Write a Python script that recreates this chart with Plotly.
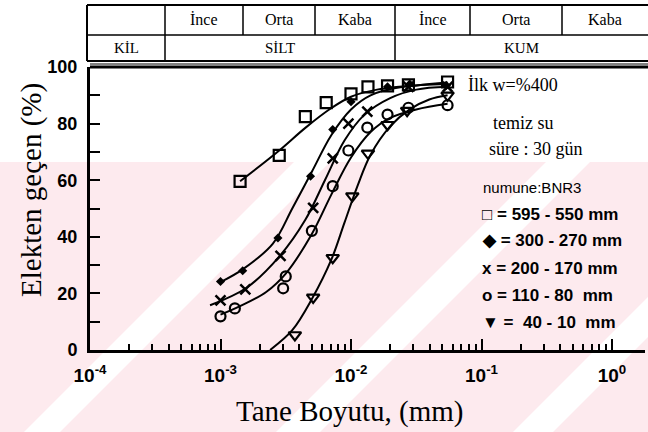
import plotly.graph_objects as go

# ---------------- data ----------------
# measured points: log10(grain size, mm) and percent passing
sq_x = [-2.85, -2.55, -2.35, -2.19, -2.0, -1.87, -1.72, -1.56, -1.26]
sq_y = [59.6, 68.8, 82.5, 87.4, 90.5, 93.0, 93.3, 93.7, 94.7]

dm_x = [-3.0, -2.83, -2.56, -2.31, -2.14, -2.0, -1.72, -1.55, -1.27]
dm_y = [24.2, 28.0, 39.6, 61.4, 77.9, 87.7, 93.0, 94.0, 93.5]

xx_x = [-3.0, -2.81, -2.54, -2.29, -2.14, -2.02, -1.875, -1.56, -1.26]
xx_y = [17.5, 21.4, 33.3, 50.2, 67.7, 80.0, 84.2, 93.0, 93.0]

ci_x = [-3.0, -2.89, -2.52, -2.50, -2.30, -2.14, -2.02, -1.875, -1.72, -1.56, -1.26]
ci_y = [11.9, 14.7, 21.8, 26.0, 42.1, 57.9, 70.5, 78.6, 83.2, 85.6, 86.5]

tr_x = [-2.43, -2.29, -2.14, -1.99, -1.87, -1.72, -1.57, -1.26]
tr_y = [5.3, 18.6, 32.6, 54.4, 69.5, 79.6, 84.6, 90.0]

# hand-drawn fitted curves
sq_cx = [-2.85, -2.55, -2.35, -2.15, -2.0, -1.8, -1.5, -1.26]
sq_cy = [59.6, 70.5, 78.5, 85.5, 89.5, 92.0, 93.5, 94.5]

dm_cx = [-3.0, -2.83, -2.6, -2.45, -2.3, -2.15, -2.0, -1.85, -1.6, -1.26]
dm_cy = [24.0, 28.5, 37.5, 50.0, 63.0, 76.0, 85.0, 90.0, 93.0, 94.0]

xx_cx = [-3.08, -2.8, -2.55, -2.35, -2.2, -2.05, -1.9, -1.7, -1.5, -1.26]
xx_cy = [15.8, 22.0, 33.0, 46.0, 60.0, 74.0, 83.0, 89.0, 92.0, 93.0]

ci_cx = [-3.0, -2.85, -2.65, -2.5, -2.3, -2.15, -2.0, -1.85, -1.7, -1.5, -1.26]
ci_cy = [12.5, 15.5, 20.5, 27.0, 41.0, 55.0, 68.0, 77.0, 82.0, 85.0, 87.0]

tr_cx = [-2.62, -2.45, -2.3, -2.15, -2.05, -1.95, -1.85, -1.7, -1.55, -1.4, -1.26]
tr_cy = [0.0, 7.0, 18.0, 32.0, 45.0, 58.0, 69.0, 79.0, 85.0, 88.5, 90.0]

x_tick_exp = [-4, -3, -2, -1, 0]
y_tick_vals = [0, 10, 20, 30, 40, 50, 60, 70, 80, 90, 100]

top_row = ["", "İnce", "Orta", "Kaba", "İnce", "Orta", "Kaba"]
bottom_row = ["KİL", "SİLT", "KUM"]
legend_rows = ["□ = 595 - 550 mm", "◆ = 300 - 270 mm", "x = 200 - 170 mm",
               "o = 110 - 80  mm", "▼ =  40 - 10  mm"]

# ---------------- layout helpers (pixel -> paper) ----------------
L, R, T, B = 90, 645, 67, 350
W, H = 648, 432
def px(x):
    return (x - L) / (R - L)
def py(y):
    return (B - y) / (B - T)

BOLD = "Liberation Sans, Arial, sans-serif"
SERIF = "Liberation Serif, Times New Roman, DejaVu Serif, serif"

fig = go.Figure()

def tenpow(v):
    return [10 ** a for a in v]

curves = [(sq_cx, sq_cy), (dm_cx, dm_cy), (xx_cx, xx_cy), (ci_cx, ci_cy), (tr_cx, tr_cy)]
for cx, cy in curves:
    fig.add_trace(go.Scatter(x=tenpow(cx), y=cy, mode="lines",
                             line=dict(color="black", width=2, shape="spline", smoothing=1.0),
                             hoverinfo="skip", showlegend=False))

pts = [
    (sq_x, sq_y, dict(symbol="square-open", size=11, line=dict(width=2.2, color="black"), color="black")),
    (dm_x, dm_y, dict(symbol="diamond", size=7, color="black")),
    (xx_x, xx_y, dict(symbol="x-thin", size=10, line=dict(width=2.5, color="black"), color="black")),
    (ci_x, ci_y, dict(symbol="circle-open", size=10, line=dict(width=2.2, color="black"), color="black")),
    (tr_x, tr_y, dict(symbol="triangle-down-open", size=11, line=dict(width=2.2, color="black"), color="black")),
]
for x, y, mk in pts:
    fig.add_trace(go.Scatter(x=tenpow(x), y=y, mode="markers", marker=mk, showlegend=False))

minor_vals = [m * 10 ** e for e in range(-4, 1) for m in range(2, 10)]

fig.update_layout(
    width=W, height=H,
    margin=dict(l=L, r=W - R, t=T, b=H - B, autoexpand=False),
    paper_bgcolor="white", plot_bgcolor="rgba(0,0,0,0)",
    xaxis=dict(
        type="log", range=[-4, (R - 612) / 130.5], automargin=False,
        showgrid=False, zeroline=False,
        showline=True, linecolor="black", linewidth=3,
        ticks="inside", ticklen=11, tickwidth=2, tickcolor="black",
        tickvals=tenpow(x_tick_exp),
        ticktext=["10<sup>%d</sup>" % e for e in x_tick_exp],
        tickfont=dict(family=BOLD, size=19, color="black", weight="bold"),
        ticklabelstandoff=6,
        minor=dict(tickvals=minor_vals, ticks="inside", ticklen=6, tickwidth=1.5, tickcolor="black"),
    ),
    yaxis=dict(
        range=[0, 100], showgrid=False, zeroline=False, automargin=False,
        showline=True, linecolor="black", linewidth=3,
        ticks="inside", ticklen=10, tickwidth=2, tickcolor="black",
        tickvals=y_tick_vals,
        ticktext=[str(v) if v % 20 == 0 else "" for v in y_tick_vals],
        tickfont=dict(family=BOLD, size=18, color="black", weight="bold"),
        ticklabelstandoff=6,
    ),
)

shapes = []
# faint pink watermark in the lower part of the page
PINK = "#fdeaee"
shapes.append(dict(type="rect", xref="paper", yref="paper", layer="below",
                   x0=px(0), x1=px(W), y0=py(H), y1=py(162), line=dict(width=0), fillcolor=PINK))
def band(s, w):
    # white diagonal band along x + y = s (pixels), half-width w
    pts_ = [(s - w - 162, 162), (s + w - 162, 162), (s + w - H, H), (s - w - H, H)]
    path = "M " + " L ".join("%f,%f" % (px(a), py(b)) for a, b in pts_) + " Z"
    shapes.append(dict(type="path", xref="paper", yref="paper", layer="below", path=path,
                       line=dict(width=0), fillcolor="white"))
for s, w in [(474, 18), (730, 22), (965, 20)]:
    band(s, w)

def line(x0, y0, x1, y1, w=2):
    shapes.append(dict(type="line", xref="paper", yref="paper", x0=px(x0), y0=py(y0),
                       x1=px(x1), y1=py(y1), line=dict(color="black", width=w)))

# plot top frame (double line)
line(L, T, 648, T, 3)
line(L, T - 3, 648, T - 3, 1)

# header table
tl, tr_, tt, tm, tb = 87, 648, 5, 35, 61
line(tl, tt, tr_, tt, 2)
line(tl, tm, tr_, tm, 1.5)
line(tl, tb, tr_, tb, 2)
line(tl, tt, tl, tb, 2)
top_cols = [87, 165, 243, 315, 395, 470, 562, 648]
for xv in top_cols[1:-1]:
    line(xv, tt, xv, tm, 1.5)
for xv in [165, 395]:
    line(xv, tm, xv, tb, 1.5)
fig.update_layout(shapes=shapes)

ann = []
for i, t in enumerate(top_row):
    if t:
        ann.append(dict(x=px((top_cols[i] + top_cols[i + 1]) / 2), y=py((tt + tm) / 2), text=t,
                        font=dict(family=SERIF, size=16, color="black")))
bot_cols = [87, 165, 395, 648]
for i, t in enumerate(bottom_row):
    ann.append(dict(x=px((bot_cols[i] + bot_cols[i + 1]) / 2), y=py((tm + tb) / 2), text=t,
                    font=dict(family=SERIF, size=15, color="black")))

ann.append(dict(x=px(466), y=py(85), text="İlk w=%400", xanchor="left",
                font=dict(family=SERIF, size=18, color="black")))
ann.append(dict(x=px(491), y=py(123), text="temiz su", xanchor="left",
                font=dict(family=SERIF, size=18, color="black")))
ann.append(dict(x=px(487), y=py(149), text="süre : 30 gün", xanchor="left",
                font=dict(family=SERIF, size=18, color="black")))
ann.append(dict(x=px(481), y=py(187), text="numune:BNR3", xanchor="left",
                font=dict(family="Liberation Sans, Arial, sans-serif", size=15, color="black")))
row_y = [214, 241, 268, 295, 322]
for t, yv in zip(legend_rows, row_y):
    ann.append(dict(x=px(480), y=py(yv), text=t, xanchor="left",
                    font=dict(family=BOLD, size=17, color="black", weight="bold")))

# axis titles
ann.append(dict(x=px(350), y=py(411), text="Tane Boyutu, (mm)",
                font=dict(family=SERIF, size=29, color="black")))
ann.append(dict(x=px(31), y=py(190), text="Elekten geçen (%)", textangle=-90,
                font=dict(family=SERIF, size=29, color="black")))

for a in ann:
    a.update(xref="paper", yref="paper", showarrow=False,
             yanchor=a.get("yanchor", "middle"), xanchor=a.get("xanchor", "center"))
fig.update_layout(annotations=ann)

fig.write_html("out.html", config={"displayModeBar": False},
               post_script="document.body.style.margin='0px';document.body.style.padding='0px';")
